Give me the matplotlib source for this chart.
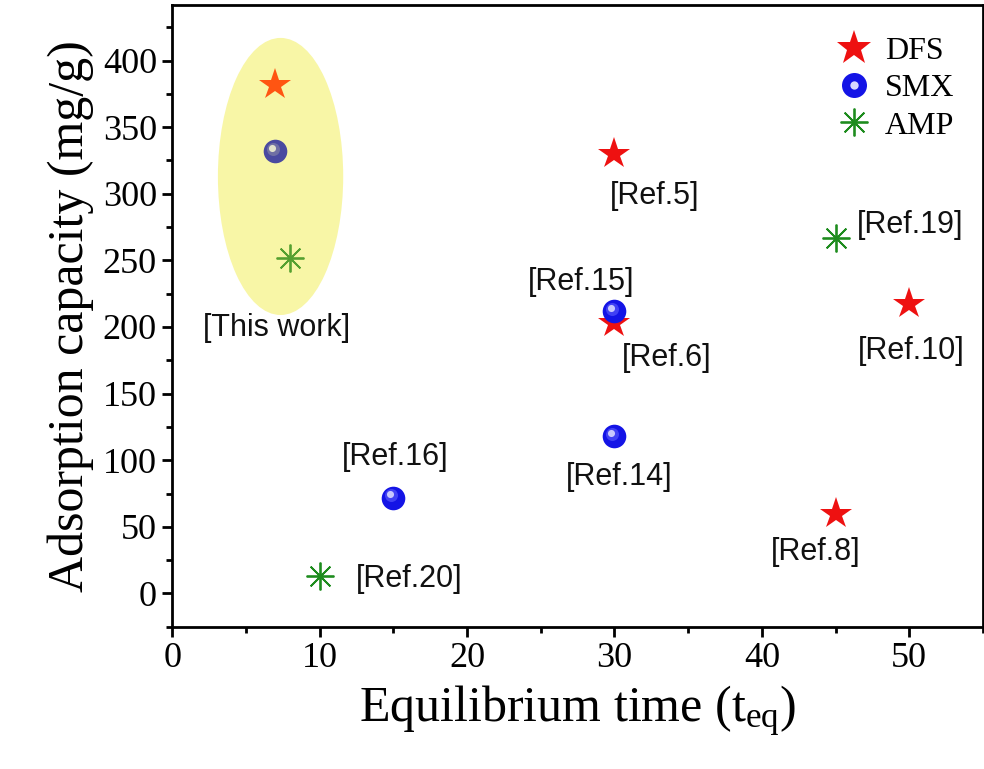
import numpy as np
import matplotlib.pyplot as plt
from matplotlib.patches import Ellipse
from matplotlib.lines import Line2D
from matplotlib.transforms import offset_copy

# data: first point of each series is "This work"
dfs_t = [7, 30, 30, 50, 45]
dfs_q = [382, 330, 203, 217, 60]
dfs_ref = ["", "[Ref.5]", "[Ref.6]", "[Ref.10]", "[Ref.8]"]

smx_t = [7, 30, 30, 15]
smx_q = [332, 212, 118, 72]
smx_ref = ["", "[Ref.15]", "[Ref.14]", "[Ref.16]"]

amp_t = [8, 45, 10]
amp_q = [252, 267, 13]
amp_ref = ["[This work]", "[Ref.19]", "[Ref.20]"]

# label offsets in pixels (dx, dy)
dfs_off = [None, (40, -42), (52, -35), (2, -47), (-20, -38)]
smx_off = [None, (-33, 29), (5, -41), (2, 41)]
amp_off = [(-14, -70), (75, 13), (90, -3)]

serif = "Liberation Serif"
sans = "Liberation Sans"
plt.rcParams["mathtext.fontset"] = "custom"
plt.rcParams["mathtext.rm"] = serif
plt.rcParams["mathtext.it"] = serif

fig = plt.figure(figsize=(9.84, 7.69), dpi=100)
ax = fig.add_axes([0.175, 0.185, 0.824, 0.809])
ax.set_xlim(0, 55)
ax.set_ylim(-25, 442)

# highlight ellipse for this work
ax.add_patch(Ellipse((7.35, 313), 8.5, 208, facecolor="#f8f6a6", edgecolor="none", zorder=0))

star_kw = dict(marker="*", linestyle="none", markersize=24, markeredgewidth=0)
ast_kw = dict(marker=(8, 2, 0), linestyle="none", markersize=20, markeredgewidth=1.3)


def sphere(x, y, base, mid, hi, size=17):
    ax.plot(x, y, "o", color=base, markersize=size, markeredgewidth=0, zorder=3)
    tr1 = offset_copy(ax.transData, fig=fig, x=-1.5, y=1.5, units="points")
    ax.plot(x, y, "o", color=mid, markersize=size * 0.55, markeredgewidth=0,
            alpha=0.6, transform=tr1, zorder=4)
    tr2 = offset_copy(ax.transData, fig=fig, x=-2.4, y=2.4, units="points")
    ax.plot(x, y, "o", color=hi, markersize=size * 0.3, markeredgewidth=0,
            alpha=0.9, transform=tr2, zorder=5)


# this work
ax.plot(dfs_t[:1], dfs_q[:1], color="#ff5512", zorder=3, **star_kw)
sphere(smx_t[:1], smx_q[:1], "#4a4aa0", "#8a8aa8", "#f0f0d0")
ax.plot(amp_t[:1], amp_q[:1], color="#55a030", zorder=3, **ast_kw)

# literature
ax.plot(dfs_t[1:], dfs_q[1:], color="#ee1111", zorder=3, **star_kw)
sphere(smx_t[1:], smx_q[1:], "#1414e6", "#6060ff", "#d8d8ff")
ax.plot(amp_t[1:], amp_q[1:], color="#1e8c1e", zorder=3, **ast_kw)

for ts, qs, refs, offs in [(dfs_t, dfs_q, dfs_ref, dfs_off),
                           (smx_t, smx_q, smx_ref, smx_off),
                           (amp_t, amp_q, amp_ref, amp_off)]:
    for t, q, r, o in zip(ts, qs, refs, offs):
        if not r:
            continue
        ax.annotate(r, (t, q), xytext=(o[0] * 0.72, o[1] * 0.72), textcoords="offset points",
                    ha="center", va="center", fontsize=22, family=sans, color="#111111")

# legend
h_dfs = Line2D([], [], color="#ee1111", marker="*", linestyle="none", markersize=26, markeredgewidth=0)
h_smx = (Line2D([], [], marker="o", linestyle="none", color="#1414e6", markersize=18, markeredgewidth=0),
         Line2D([], [], marker="o", linestyle="none", color="#d8d8ff", markersize=6, markeredgewidth=0))
h_amp = Line2D([], [], color="#1e8c1e", **ast_kw)
ax.legend([h_dfs, h_smx, h_amp], ["DFS", "SMX", "AMP"], loc="upper right",
          bbox_to_anchor=(1.0, 0.995), frameon=False, prop={"family": serif, "size": 23},
          handletextpad=0.3, labelspacing=0.25, handlelength=1.3)

# axes styling
for s in ax.spines.values():
    s.set_linewidth(2)
ax.set_xticks(np.arange(0, 51, 10))
ax.set_xticks(np.arange(0, 56, 5), minor=True)
ax.set_yticks(np.arange(0, 401, 50))
ax.set_yticks(np.arange(-25, 441, 25), minor=True)
ax.tick_params(which="major", direction="out", length=7, width=2, labelsize=26, pad=4)
ax.tick_params(which="minor", direction="out", length=4, width=2)
for lab in ax.get_xticklabels() + ax.get_yticklabels():
    lab.set_family(serif)

ax.set_xlabel(r"Equilibrium time (t$_{\rm eq}$)", family=serif, fontsize=36, labelpad=6)
ax.set_ylabel("Adsorption capacity (mg/g)", family=serif, fontsize=36, labelpad=6)

fig.savefig("out.png", dpi=100)
